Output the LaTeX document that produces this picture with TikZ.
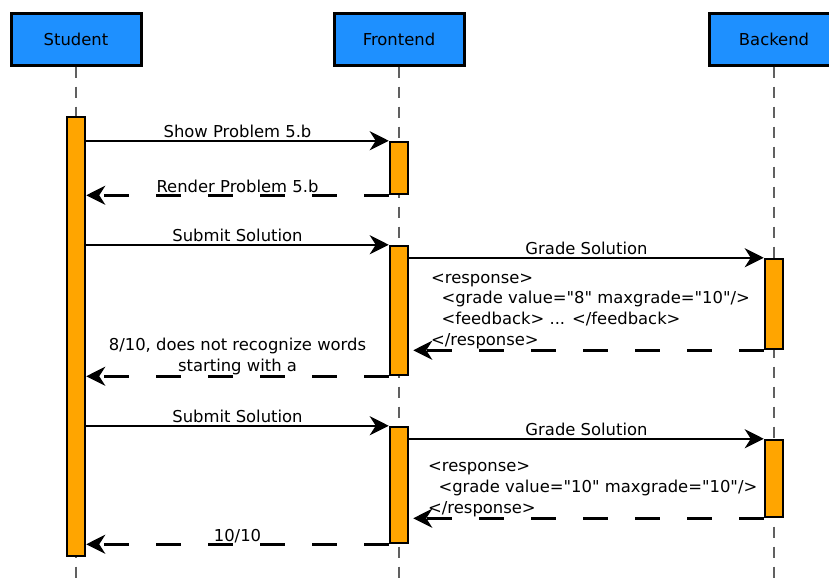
\documentclass[tikz,border=0pt]{standalone}
\usepackage{fontspec}
\setmainfont[Ligatures=TeXReset]{DejaVu Sans}
\usetikzlibrary{arrows.meta,calc}
\definecolor{hdrblue}{HTML}{1E90FF}
\definecolor{actorange}{HTML}{FFA500}
\definecolor{lifegray}{HTML}{606060}
\newcommand{\dqt}{\char34\relax}
\begin{document}
\begin{tikzpicture}[x=1pt,y=-1pt,
  font=\fontsize{16.4}{20.7}\selectfont,
  header/.style={draw=black,line width=3pt,fill=hdrblue,minimum width=130pt,minimum height=52pt,inner sep=0pt},
  activation/.style={draw=black,line width=2.5pt,fill=actorange,minimum width=18pt,inner sep=0pt},
  lifeline/.style={draw=lifegray,line width=2pt,dash pattern=on 11pt off 9pt},
  msg/.style={draw=black,line width=2.5pt,-{Stealth[length=19pt,width=19pt,inset=6pt]}},
  reply/.style={msg,dash pattern=on 25pt off 27pt},
  lbl/.style={anchor=base,inner sep=0pt,yshift=3pt},
  txt/.style={inner sep=0pt}
]
\useasboundingbox (0,0) rectangle (829,579);
% headers
\node[header] (hs) at (76,39) {Student};
\node[header] (hf) at (399,39) {Frontend};
\node[header] (hb) at (774,39) {Backend};
% lifeline ends
\coordinate (ls) at (76,579);
\coordinate (lf) at (399,579);
\coordinate (lb) at (774,579);
\draw[lifeline] (hs.south) -- (ls);
\draw[lifeline] (hf.south) -- (lf);
\draw[lifeline] (hb.south) -- (lb);
% activations
\node[activation,minimum height=439pt] (sa) at (76,336.5) {};
\node[activation,minimum height=52pt] (fa1) at (399,168) {};
\node[activation,minimum height=129pt] (fa2) at (399,310.5) {};
\node[activation,minimum height=90pt] (ba1) at (774,304) {};
\node[activation,minimum height=116pt] (fa3) at (399,485) {};
\node[activation,minimum height=77pt] (ba2) at (774,478.5) {};
% messages
\draw[msg] (sa.east |- fa1.north) -- node[lbl] {Show Problem 5.b} (fa1.north west);
\draw[reply] (fa1.south west) -- node[lbl] {Render Problem 5.b} (sa.east |- fa1.south);
\draw[msg] (sa.east |- fa2.north) -- node[lbl] {Submit Solution} (fa2.north west);
\draw[msg] (fa2.east |- ba1.north) -- node[lbl] {Grade Solution} (ba1.north west);
\coordinate (r1end) at ($(fa2.east |- ba1.south)+(4,0)$);
\draw[reply] (ba1.south west) -- (r1end);
\node[txt,anchor=base west] (r1txt) at (431,283) {\begin{tabular}[t]{@{}l@{}}<response>\\\hspace{10.3pt}<grade value=\dqt 8\dqt{} maxgrade=\dqt 10\dqt/>\\\hspace{10.3pt}<feedback> ... </feedback>\\</response>\end{tabular}};
\draw[reply] (fa2.south west) -- (sa.east |- fa2.south);
\node[txt,anchor=base] (m810) at (237.5,350.7) {\begin{tabular}[t]{@{}c@{}}8/10, does not recognize words\\starting with a\end{tabular}};
\draw[msg] (sa.east |- fa3.north) -- node[lbl] {Submit Solution} (fa3.north west);
\draw[msg] (fa3.east |- ba2.north) -- node[lbl] {Grade Solution} (ba2.north west);
\coordinate (r2end) at ($(fa3.east |- ba2.south)+(4,0)$);
\draw[reply] (ba2.south west) -- (r2end);
\node[txt,anchor=base west] (r2txt) at (428,471.7) {\begin{tabular}[t]{@{}l@{}}<response>\\\hspace{10.3pt}<grade value=\dqt 10\dqt{} maxgrade=\dqt 10\dqt/>\\</response>\end{tabular}};
\draw[reply] (fa3.south west) -- node[lbl] {10/10} (sa.east |- fa3.south);
\end{tikzpicture}
\end{document}
